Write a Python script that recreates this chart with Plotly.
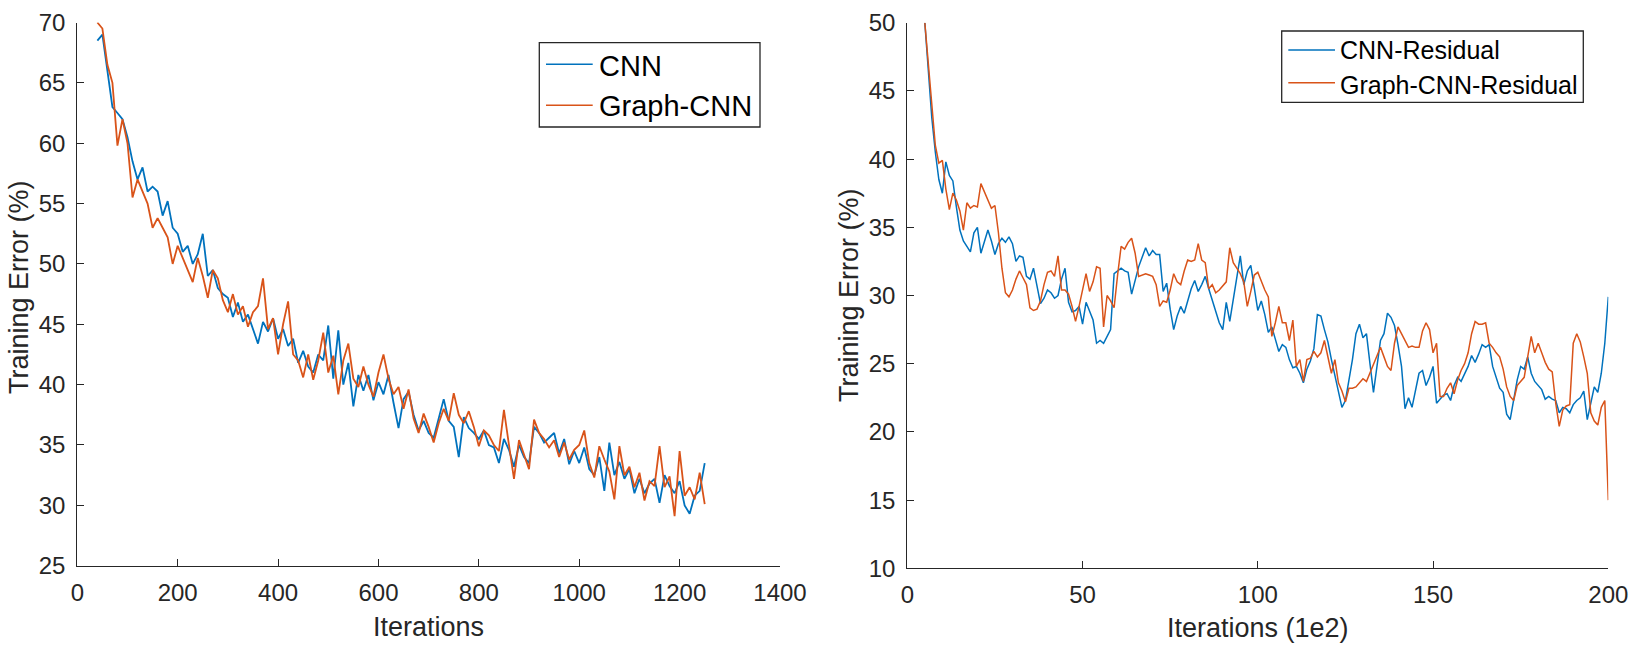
import plotly.graph_objects as go

# ---------------- Left panel data (Iterations, step 10) ----------------
left_iters = list(range(40, 1251, 10))
cnn = [
    68.5, 69.0, 66.0, 63.0, 62.5, 62.0, 60.5, 58.5, 57.0, 58.0,
    56.0, 56.4, 56.0, 54.0, 55.2, 53.0, 52.5, 51.0, 51.5, 50.0,
    50.8, 52.5, 49.0, 49.5, 48.0, 47.5, 47.2, 45.6, 46.8, 45.2,
    45.8, 44.5, 43.4, 45.2, 44.4, 45.5, 43.8, 44.6, 43.2, 43.8,
    41.8, 42.8, 41.5, 41.0, 42.5, 42.0, 44.9, 40.5, 44.5, 40.0,
    41.8, 38.2, 40.8, 39.5, 40.8, 38.7, 40.2, 39.2, 40.8, 38.5,
    36.4, 38.8, 39.4, 37.5, 36.2, 37.0, 36.0, 35.6, 37.2, 38.8,
    37.0, 36.5, 34.0, 37.3, 36.4, 36.0, 35.5, 36.2, 35.0, 34.8,
    33.5, 35.5, 34.6, 33.2, 35.0, 34.0, 33.5, 36.5, 36.0, 35.2,
    35.6, 36.0, 34.3, 35.5, 33.4, 34.5, 33.5, 34.8, 33.0, 32.5,
    34.0, 31.2, 35.2, 32.5, 33.6, 32.2, 33.0, 31.0, 32.2, 31.0,
    31.8, 32.2, 30.2, 32.5, 31.6, 31.0, 32.0, 30.0, 29.3, 30.8,
    31.2, 33.5,
]
graph_cnn = [
    70.0, 69.5, 66.5, 65.0, 59.8, 62.0, 60.0, 55.5, 57.0, 56.0,
    55.0, 53.0, 53.8, 53.0, 52.2, 50.0, 51.5, 50.5, 49.5, 48.5,
    50.5, 49.0, 47.2, 49.5, 48.8, 47.0, 46.0, 47.5, 45.8, 46.5,
    44.8, 46.0, 46.5, 48.8, 44.6, 45.5, 42.5, 45.0, 46.9, 42.5,
    42.0, 40.6, 42.5, 40.4, 42.0, 44.3, 41.0, 42.4, 39.2, 42.0,
    43.4, 40.5, 39.8, 41.5, 40.0, 39.0, 41.0, 42.5, 40.5, 39.2,
    39.8, 38.0, 39.6, 37.2, 36.0, 37.6, 36.5, 35.2, 36.8, 38.0,
    37.0, 39.3, 37.5, 36.8, 37.8, 36.5, 34.9, 36.2, 35.8, 35.0,
    34.5, 37.9, 35.0, 32.2, 35.4, 34.2, 33.0, 37.1, 36.0, 35.5,
    34.8, 35.4, 34.0, 35.2, 33.8, 34.6, 35.0, 36.2, 33.5, 32.3,
    34.9, 33.8, 32.8, 30.5, 34.9, 32.5, 33.2, 31.5, 32.7, 30.4,
    32.0, 31.6, 34.9, 31.5, 32.4, 29.1, 34.5, 30.8, 31.5, 30.5,
    32.7, 30.1,
]

# ---------------- Right panel data (Iterations (1e2), step 1) ----------------
right_iters = list(range(5, 201))
cnn_res = [
    50.0, 46.5, 43.0, 40.5, 38.5, 37.5, 39.8, 38.8, 38.4, 36.5,
    34.8, 34.0, 33.6, 33.2, 34.6, 35.0, 33.1, 34.0, 34.8, 34.0,
    33.0, 33.8, 34.2, 33.9, 34.3, 33.8, 32.5, 32.9, 32.8, 31.4,
    31.2, 32.0, 30.8, 29.4, 29.8, 30.4, 30.2, 29.8, 30.0, 31.2,
    32.0, 29.5, 28.8, 28.9, 29.2, 27.9, 29.5, 28.8, 28.2, 26.5,
    26.7, 26.5, 27.0, 27.5, 31.6, 31.8, 32.0, 31.8, 31.7, 30.1,
    31.2, 32.1, 32.8, 33.5, 32.9, 33.3, 33.0, 33.0, 30.3, 30.9,
    29.0, 27.5, 28.5, 29.2, 28.7, 29.6, 30.5, 31.1, 30.3, 30.8,
    31.4, 30.5, 29.7, 28.9, 28.0, 27.5, 29.5, 28.1, 29.8, 31.5,
    32.9, 30.8, 31.8, 32.2, 30.4, 28.9, 29.6, 28.6, 27.3, 27.7,
    26.8, 25.9, 26.4, 26.2, 25.3, 24.7, 24.8, 24.3, 23.6, 24.6,
    25.2, 26.1, 28.6, 28.5, 27.5, 26.6, 25.3, 24.2, 23.0, 21.8,
    22.3, 23.8, 25.3, 27.2, 27.9, 26.9, 27.2, 25.0, 22.9, 24.8,
    26.7, 27.2, 28.7, 28.4, 27.8, 26.4, 24.8, 21.7, 22.5, 21.8,
    23.2, 24.3, 24.5, 23.4, 24.0, 24.8, 22.1, 22.4, 22.7, 22.8,
    22.3, 23.4, 24.0, 23.7, 24.2, 24.8, 25.6, 25.1, 25.7, 26.4,
    26.2, 26.4, 24.8, 24.0, 23.2, 22.9, 21.3, 20.9, 22.4, 23.8,
    24.8, 24.6, 25.5, 24.3, 23.7, 23.4, 23.1, 22.4, 22.6, 22.4,
    22.3, 21.4, 21.8, 21.7, 21.4, 22.0, 22.3, 22.5, 23.0, 20.9,
    22.0, 23.3, 22.9, 24.3, 26.5, 29.9,
]
graph_cnn_res = [
    50.0, 47.0, 43.8, 41.0, 39.7, 39.9, 37.8, 36.3, 37.5, 37.0,
    36.2, 34.8, 36.8, 36.4, 36.6, 36.5, 38.2, 37.6, 37.0, 36.4,
    36.6, 34.6, 32.0, 30.2, 29.9, 30.4, 31.2, 31.8, 31.3, 30.8,
    29.1, 28.9, 29.0, 29.6, 30.8, 31.7, 31.8, 31.4, 32.9, 30.4,
    30.4, 30.1, 29.2, 28.1, 29.2, 30.4, 31.6, 30.3, 31.0, 32.1,
    32.0, 27.7, 30.0, 29.6, 29.1, 31.5, 33.6, 33.4, 33.9, 34.2,
    33.1, 31.4, 31.5, 31.6, 31.5, 31.4, 30.8, 29.2, 29.6, 29.5,
    30.4, 31.6, 31.0, 30.8, 31.8, 32.6, 32.5, 32.6, 33.8, 32.6,
    32.4, 30.5, 30.8, 30.2, 30.4, 30.7, 31.0, 33.5, 32.4, 32.0,
    31.6, 31.0, 29.2, 30.3, 31.5, 31.7, 31.0, 30.4, 29.9, 27.0,
    28.0, 29.2, 28.0, 28.0, 26.7, 28.2, 24.8, 25.3, 23.7, 25.3,
    25.4, 25.9, 25.5, 25.8, 26.7, 25.5, 24.3, 25.3, 23.6, 23.0,
    22.2, 23.2, 23.2, 23.3, 23.6, 23.9, 23.7, 24.3, 24.9, 25.5,
    26.2, 25.5, 24.8, 24.5, 26.5, 27.7, 27.2, 26.8, 26.2, 26.3,
    26.2, 26.2, 27.4, 28.0, 27.5, 25.8, 26.5, 22.6, 22.6, 23.2,
    23.6, 22.8, 23.8, 24.5, 25.0, 25.8, 27.2, 28.1, 27.9, 27.9,
    28.0, 26.5, 26.2, 25.8, 25.5, 24.6, 23.3, 22.6, 22.3, 23.4,
    23.7, 24.0, 25.5, 27.0, 25.8, 26.5, 25.8, 25.1, 24.6, 24.4,
    22.1, 20.4, 21.6, 21.9, 22.0, 26.5, 27.2, 26.6, 25.5, 24.3,
    21.4, 20.8, 20.5, 21.8, 22.3, 15.0,
]

left_xticks = [0, 200, 400, 600, 800, 1000, 1200, 1400]
left_yticks = [25, 30, 35, 40, 45, 50, 55, 60, 65, 70]
right_xticks = [0, 50, 100, 150, 200]
right_yticks = [10, 15, 20, 25, 30, 35, 40, 45, 50]

left_names = ["CNN", "Graph-CNN"]
right_names = ["CNN-Residual", "Graph-CNN-Residual"]

BLUE = "#0072BD"
ORANGE = "#D95319"
AX = "#262626"
FONT = "Liberation Sans, Arial, Helvetica, sans-serif"
W, H = 1636, 651


def px(x):
    return x / W


def py(y):
    return 1 - y / H


fig = go.Figure()
fig.add_trace(go.Scatter(x=left_iters, y=cnn, mode="lines", name=left_names[0],
                         line=dict(color=BLUE, width=1.8), showlegend=False,
                         xaxis="x", yaxis="y"))
fig.add_trace(go.Scatter(x=left_iters, y=graph_cnn, mode="lines", name=left_names[1],
                         line=dict(color=ORANGE, width=1.8), showlegend=False,
                         xaxis="x", yaxis="y"))
fig.add_trace(go.Scatter(x=right_iters, y=cnn_res, mode="lines", name=right_names[0],
                         line=dict(color=BLUE, width=1.5), showlegend=False,
                         xaxis="x2", yaxis="y2"))
fig.add_trace(go.Scatter(x=right_iters, y=graph_cnn_res, mode="lines", name=right_names[1],
                         line=dict(color=ORANGE, width=1.5), showlegend=False,
                         xaxis="x2", yaxis="y2"))

axis_common = dict(showgrid=False, zeroline=False, showline=True, linecolor=AX,
                   linewidth=1.3, ticks="inside", ticklen=7, tickwidth=1.3,
                   tickcolor=AX, tickfont=dict(family=FONT, size=24, color=AX),
                   mirror=False, automargin=False)

fig.update_layout(
    width=W, height=H,
    margin=dict(l=0, r=0, t=0, b=0, pad=0, autoexpand=False),
    paper_bgcolor="white", plot_bgcolor="white",
    font=dict(family=FONT, color=AX),
    showlegend=False,
    xaxis=dict(domain=[px(77.3), px(780.0)], range=[0, 1400], tickvals=left_xticks,
               anchor="y", ticklabelstandoff=5, **axis_common),
    yaxis=dict(domain=[py(565.7), py(22.5)], range=[25, 70], tickvals=left_yticks,
               anchor="x", ticklabelstandoff=6, **axis_common),
    xaxis2=dict(domain=[px(907.3), px(1608.3)], range=[0, 200], tickvals=right_xticks,
                anchor="y2", ticklabelstandoff=5, **axis_common),
    yaxis2=dict(domain=[py(568.3), py(22.7)], range=[10, 50], tickvals=right_yticks,
                anchor="x2", ticklabelstandoff=6, **axis_common),
)

# ---- axis titles ----
title_font = dict(family=FONT, size=27, color=AX)
fig.add_annotation(text="Iterations", x=px((77.3 + 780.0) / 2), y=py(627),
                   xref="paper", yref="paper", showarrow=False, font=title_font,
                   xanchor="center", yanchor="middle")
fig.add_annotation(text="Iterations (1e2)", x=px((907.3 + 1608.3) / 2), y=py(628),
                   xref="paper", yref="paper", showarrow=False, font=title_font,
                   xanchor="center", yanchor="middle")
fig.add_annotation(text="Training Error (%)", x=px(19), y=py(287),
                   xref="paper", yref="paper", showarrow=False, font=title_font,
                   textangle=-90, xanchor="center", yanchor="middle")
fig.add_annotation(text="Training Error (%)", x=px(849), y=py(295),
                   xref="paper", yref="paper", showarrow=False, font=title_font,
                   textangle=-90, xanchor="center", yanchor="middle")


# ---- legends (MATLAB-style boxes) ----
def add_legend(box, line_x, rows, text_x, names, size):
    x0, x1, y0, y1 = box
    fig.add_shape(type="rect", xref="paper", yref="paper",
                  x0=px(x0), x1=px(x1), y0=py(y1), y1=py(y0),
                  line=dict(color=AX, width=1.3), fillcolor="white", layer="above")
    for (ly, ty), name, col in zip(rows, names, [BLUE, ORANGE]):
        fig.add_shape(type="line", xref="paper", yref="paper",
                      x0=px(line_x[0]), x1=px(line_x[1]), y0=py(ly), y1=py(ly),
                      line=dict(color=col, width=1.5), layer="above")
        fig.add_annotation(text=name, x=px(text_x), y=py(ty), xref="paper", yref="paper",
                           showarrow=False, xanchor="left", yanchor="middle",
                           font=dict(family=FONT, size=size, color="black"))


add_legend((539.3, 760.0, 42.7, 127.0), (546.0, 592.7),
           [(64.3, 66.0), (105.3, 106.0)], 596.5, left_names, 29)
add_legend((1281.7, 1583.3, 31.0, 102.3), (1288.3, 1335.0),
           [(50.0, 50.5), (82.7, 85.0)], 1337.5, right_names, 25)

fig.write_html("out.html")
